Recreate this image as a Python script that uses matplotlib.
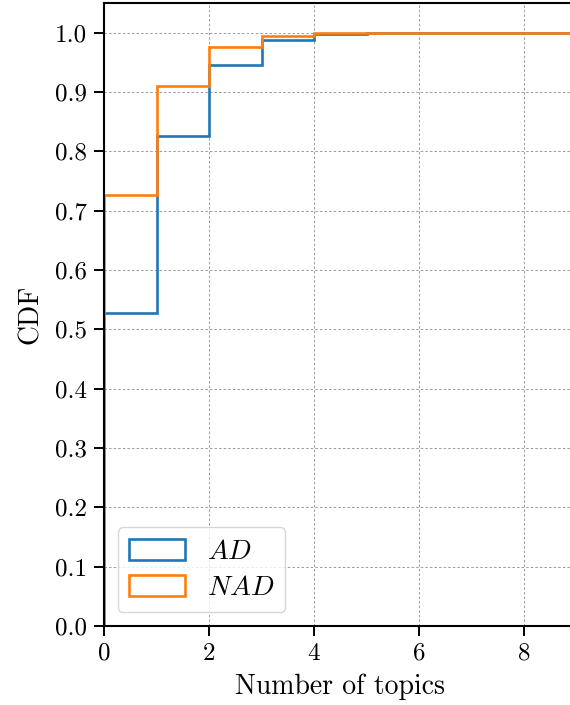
import numpy as np
import matplotlib
matplotlib.use("Agg")
import matplotlib.pyplot as plt

plt.rcParams['font.family'] = 'serif'
plt.rcParams['font.serif'] = ['cmr10']
plt.rcParams['mathtext.fontset'] = 'cm'
plt.rcParams['axes.formatter.use_mathtext'] = True
plt.rcParams['axes.unicode_minus'] = False

# Number of topics (bin left edges) and cumulative fractions
topics = [0, 1, 2, 3, 4, 5, 6, 7, 8, 9, 10, 11]
ad_cdf = [0.527, 0.825, 0.945, 0.988, 0.997, 0.999, 0.9995, 1.0, 1.0, 1.0, 1.0, 1.0]
nad_cdf = [0.726, 0.910, 0.975, 0.994, 0.9988, 0.9996, 1.0, 1.0, 1.0, 1.0, 1.0, 1.0]
labels = ['$AD$', '$NAD$']
colors = ['#1f77b4', '#ff7f0e']

fig = plt.figure(figsize=(5.7, 7.05), dpi=100)
ax = fig.add_axes([0.1825, 0.1121, 0.829, 0.8837])

edges = np.append(np.array(topics, dtype=float), topics[-1] + 1)
for cdf, lab, c in zip([ad_cdf, nad_cdf], labels, colors):
    pdf = np.diff(np.concatenate([[0.0], cdf]))
    ax.hist(topics, bins=edges, weights=pdf, cumulative=True, histtype='step',
            color=c, linewidth=1.9, label=lab)

ax.set_xlim(0, 9)
ax.set_ylim(0, 1.05)
ax.set_xticks([0, 2, 4, 6, 8])
ax.set_yticks(np.arange(0, 1.01, 0.1))
ax.set_yticklabels([f"{v:.1f}" for v in np.arange(0, 1.01, 0.1)])
ax.grid(True, linestyle=(0, (3, 2.5)), color='gray', linewidth=0.6, alpha=0.9)
for s in ax.spines.values():
    s.set_linewidth(1.5)
ax.tick_params(labelsize=18, width=1.4, length=7, pad=5)
ax.set_xlabel('Number of topics', fontsize=20, labelpad=6)
ax.set_ylabel('CDF', fontsize=20, labelpad=8)
leg = ax.legend(loc='lower left', fontsize=20, framealpha=0.8, borderaxespad=0.5,
                handlelength=2.0, handleheight=0.8, borderpad=0.4, labelspacing=0.35)

fig.savefig('out.png', dpi=100)
